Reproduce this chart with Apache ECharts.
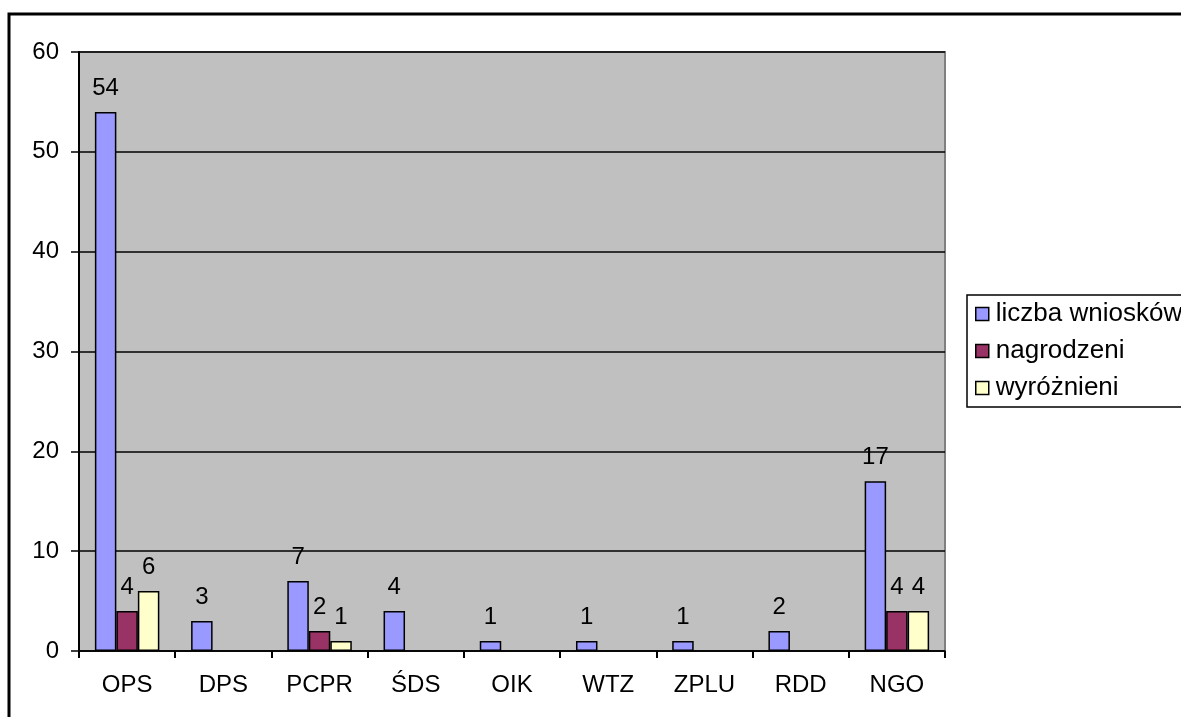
<!DOCTYPE html>
<html><head><meta charset="utf-8">
<script src="https://cdn.jsdelivr.net/npm/echarts@6/dist/echarts.min.js"></script>
<style>html,body{margin:0;padding:0;background:#fff;}#c{width:1181px;height:717px;}</style>
</head><body><div id="c"></div>
<script>
var categories = ['OPS','DPS','PCPR','ŚDS','OIK','WTZ','ZPLU','RDD','NGO'];
var seriesNames = ['liczba wniosków','nagrodzeni','wyróżnieni'];
var wnioski = [54, 3, 7, 4, 1, 1, 1, 2, 17];
var nagrodzeni = [4, null, 2, null, null, null, null, null, 4];
var wyroznieni = [6, null, 1, null, null, null, null, null, 4];
var colors = ['#9999FF','#993366','#FFFFCC'];

var chart = echarts.init(document.getElementById('c'));
var font = 'Liberation Sans, Arial, sans-serif';
function mk(name, data, color){
  return {
    name: name, type: 'bar', data: data, barGap: '0%', barCategoryGap: '33%',
    itemStyle: {color: color, borderColor: '#000', borderWidth: 1.5},
    label: {show: true, position: 'top', color: '#000', fontSize: 24, fontFamily: font, distance: 12},
    emphasis: {disabled: true}, animation: false
  };
}
chart.setOption({
  animation: false,
  graphic: [{type: 'rect', shape: {x: 9, y: 14, width: 1200, height: 760}, style: {fill: 'none', stroke: '#000', lineWidth: 3}, z: 100}],
  grid: {left: 79, top: 52, width: 866, height: 599, show: true, backgroundColor: '#C0C0C0', borderColor: '#808080', borderWidth: 2},
  legend: {
    orient: 'vertical', left: 967, top: 295, data: seriesNames,
    borderColor: '#000', borderWidth: 1.5, padding: [6, 40, 6, 8], itemGap: 11,
    itemWidth: 13, itemHeight: 13, icon: 'rect',
    itemStyle: {borderColor: '#000', borderWidth: 1.5},
    textStyle: {fontSize: 26, fontFamily: font, color: '#000', padding: [0, 0, 0, 2]},
    backgroundColor: '#fff'
  },
  xAxis: {
    type: 'category', data: categories,
    axisLine: {lineStyle: {color: '#000', width: 1.5}},
    axisTick: {show: true, length: 7, lineStyle: {color: '#000', width: 2}},
    axisLabel: {fontSize: 24, fontFamily: font, color: '#000', margin: 22}
  },
  yAxis: {
    type: 'value', min: 0, max: 60, interval: 10,
    axisLine: {show: true, lineStyle: {color: '#000', width: 2}},
    axisTick: {show: true, length: 8, lineStyle: {color: '#000', width: 1.5}},
    axisLabel: {fontSize: 24, fontFamily: font, color: '#000', margin: 20},
    splitLine: {lineStyle: {color: '#000', width: 1.5}}
  },
  series: [mk(seriesNames[0], wnioski, colors[0]), mk(seriesNames[1], nagrodzeni, colors[1]), mk(seriesNames[2], wyroznieni, colors[2])]
});
</script></body></html>
